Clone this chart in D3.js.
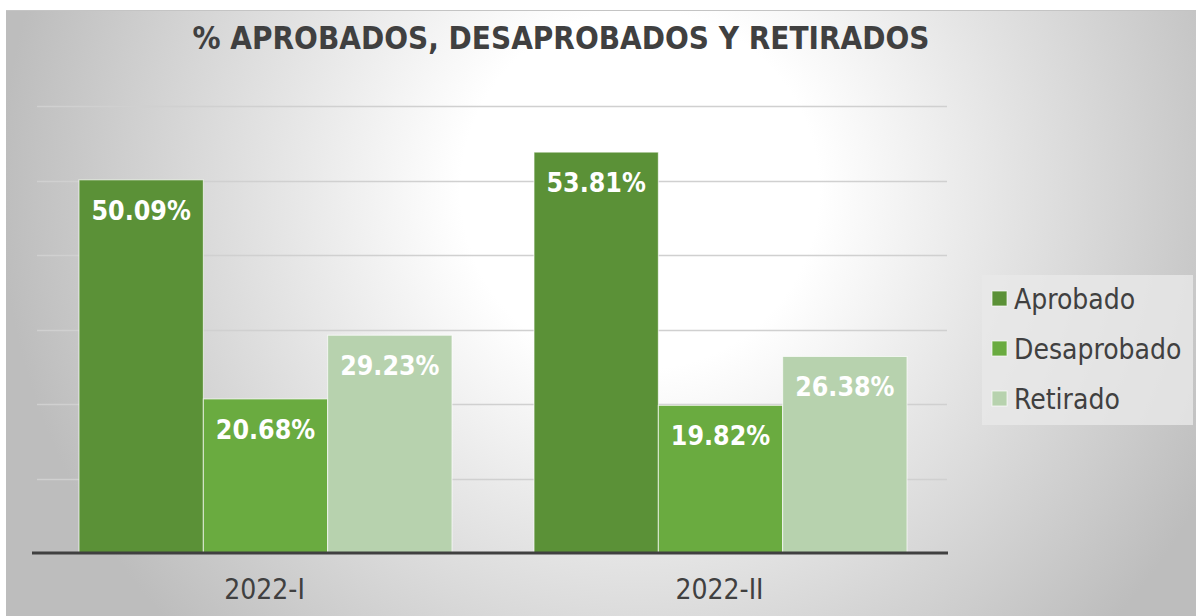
<!DOCTYPE html>
<html>
<head>
<meta charset="utf-8">
<script src="https://cdn.jsdelivr.net/npm/d3@7"></script>
<style>
  body { margin: 0; background: #fff; }
  svg { display: block; }
  text { font-family: "DejaVu Sans Condensed", "DejaVu Sans", sans-serif; }
</style>
</head>
<body>
<svg id="chart"></svg>
<script>
// data
var categories = ["2022-I", "2022-II"];
var series = ["Aprobado", "Desaprobado", "Retirado"];
var aprobado = [50.09, 53.81];
var desaprobado = [20.68, 19.82];
var retirado = [29.23, 26.38];
var yTicks = [0, 10, 20, 30, 40, 50, 60];
var colors = ["#5b9137", "#6aab40", "#b7d2ae"];

var W = 1196, H = 616;
var plot = {left: 37, right: 947, top: 106, bottom: 553};

var svg = d3.select("#chart").attr("width", W).attr("height", H);

// background gradient
var defs = svg.append("defs");
var grad = defs.append("radialGradient").attr("id", "bg")
  .attr("gradientUnits", "userSpaceOnUse")
  .attr("cx", 640).attr("cy", 190).attr("r", 640);
grad.append("stop").attr("offset", "0%").attr("stop-color", "#ffffff");
grad.append("stop").attr("offset", "28%").attr("stop-color", "#ffffff");
grad.append("stop").attr("offset", "100%").attr("stop-color", "#bdbdbd");

svg.append("rect").attr("x", 6).attr("y", 10).attr("width", W - 6).attr("height", H - 10)
  .attr("fill", "url(#bg)");
svg.append("line").attr("x1", 6).attr("x2", W).attr("y1", 10.5).attr("y2", 10.5)
  .attr("stroke", "#c4c4c4").attr("stroke-width", 1);

// scales
var x0 = d3.scaleBand().domain(categories).range([plot.left, plot.right]).padding(0);
var x1 = d3.scaleBand().domain(series).range([42, x0.bandwidth() - 40]).padding(0);
var y = d3.scaleLinear().domain([0, 60]).range([plot.bottom, plot.top]);

// gridlines
svg.append("g").selectAll("line").data(yTicks.slice(1)).join("line")
  .attr("x1", plot.left).attr("x2", plot.right)
  .attr("y1", function(d) { return Math.round(y(d)) + 0.5; })
  .attr("y2", function(d) { return Math.round(y(d)) + 0.5; })
  .attr("stroke", "#d0d0d0").attr("stroke-width", 1.5);

// title
svg.append("text").attr("x", 561).attr("y", 49).attr("text-anchor", "middle")
  .attr("font-size", 32).attr("font-weight", "bold").attr("fill", "#404040")
  .attr("textLength", 737).attr("lengthAdjust", "spacingAndGlyphs")
  .text("% APROBADOS, DESAPROBADOS Y RETIRADOS");

// bars
var rows = categories.map(function(c, i) {
  return {cat: c, vals: [aprobado[i], desaprobado[i], retirado[i]]};
});

var groups = svg.append("g").selectAll("g").data(rows).join("g")
  .attr("transform", function(d) { return "translate(" + x0(d.cat) + ",0)"; });

groups.selectAll("rect").data(function(d) {
  return d.vals.map(function(v, j) { return {s: series[j], v: v, j: j}; });
}).join("rect")
  .attr("x", function(d) { return x1(d.s); })
  .attr("y", function(d) { return y(d.v); })
  .attr("width", x1.bandwidth())
  .attr("height", function(d) { return y(0) - y(d.v); })
  .attr("fill", function(d) { return colors[d.j]; })
  .attr("stroke", "rgba(255,255,255,0.7)").attr("stroke-width", 1);

groups.selectAll("text").data(function(d) {
  return d.vals.map(function(v, j) { return {s: series[j], v: v, j: j}; });
}).join("text")
  .attr("x", function(d) { return x1(d.s) + x1.bandwidth() / 2; })
  .attr("y", function(d) { return y(d.v) + 40; })
  .attr("text-anchor", "middle")
  .attr("font-size", 26.5).attr("font-weight", "bold").attr("fill", "#ffffff")
  .text(function(d) { return d.v.toFixed(2) + "%"; });

// x axis
var xAxis = svg.append("g").attr("transform", "translate(0," + plot.bottom + ")")
  .call(d3.axisBottom(x0).tickSize(0).tickPadding(26));
xAxis.select(".domain").attr("d", "M32,0H948").attr("stroke", "#404040").attr("stroke-width", 3);
xAxis.selectAll("text").attr("font-size", 28).attr("fill", "#404040")
  .attr("font-family", "DejaVu Sans Condensed, DejaVu Sans, sans-serif");

// legend
var lg = svg.append("g").attr("transform", "translate(982,275)");
lg.append("rect").attr("width", 211).attr("height", 150).attr("fill", "#e9e9e9").attr("opacity", 0.8);
var items = lg.selectAll("g").data(series).join("g")
  .attr("transform", function(d, i) { return "translate(0," + (24 + i * 50) + ")"; });
items.append("rect").attr("x", 10).attr("y", -8).attr("width", 15).attr("height", 15)
  .attr("fill", function(d, i) { return colors[i]; })
  .attr("stroke", "rgba(255,255,255,0.7)").attr("stroke-width", 1);
items.append("text").attr("x", 32).attr("y", 10).attr("font-size", 28).attr("fill", "#404040")
  .text(function(d) { return d; });
</script>
</body>
</html>
